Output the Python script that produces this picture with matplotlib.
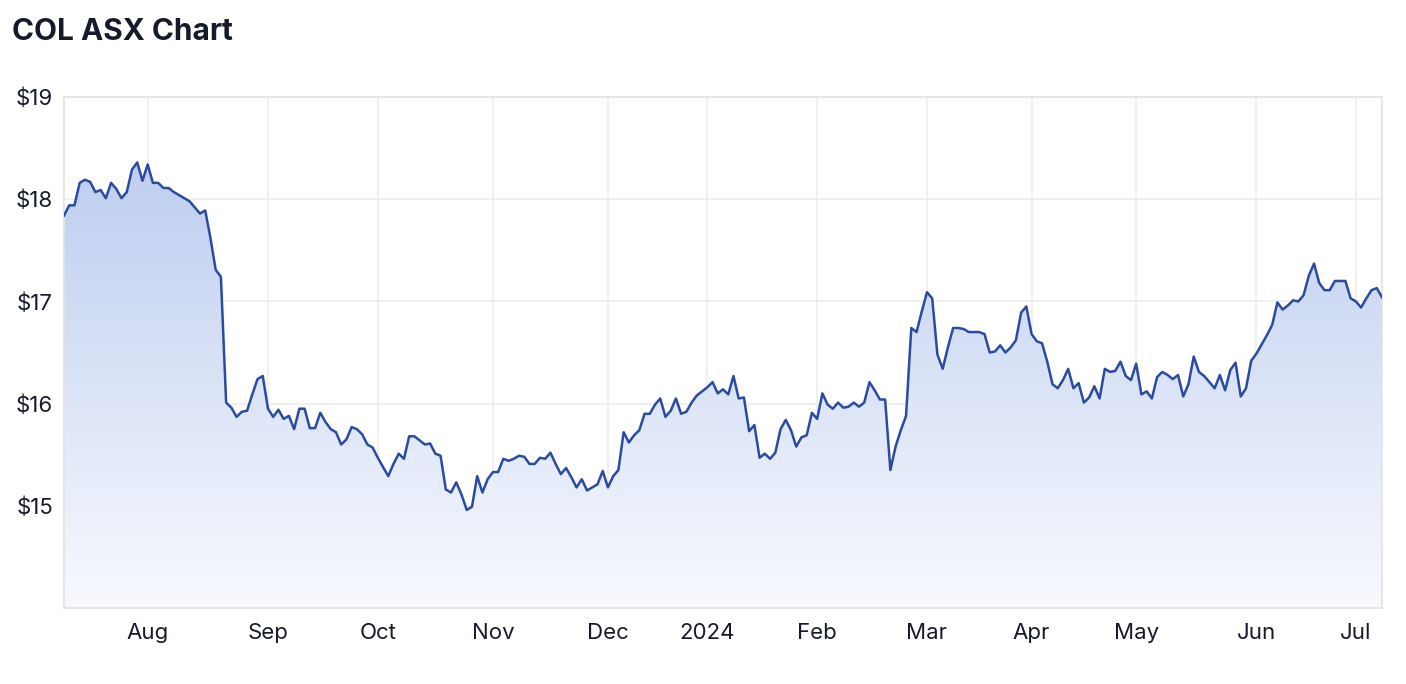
import numpy as np
import pandas as pd
import matplotlib
matplotlib.use("Agg")
import matplotlib.pyplot as plt

plt.rcParams['font.family'] = ['Inter', 'DejaVu Sans']

# ASX trading days, Jul 10 2023 -> Jul 8 2024 (exchange holidays removed)
start_date = "2023-07-10"
end_date = "2024-07-08"
asx_holidays = ["2023-12-25", "2023-12-26", "2024-01-01", "2024-01-26",
                "2024-03-29", "2024-04-01", "2024-04-25", "2024-06-10"]

# closing price of COL (one value per trading day)
prices_2023_jul_aug = [17.84, 17.94, 17.94, 18.16, 18.19, 18.17, 18.07, 18.09, 18.01, 18.16,
                       18.10, 18.01, 18.07, 18.29, 18.36, 18.18, 18.34, 18.16, 18.16, 18.11,
                       18.11, 18.07, 18.04, 18.01, 17.98, 17.92, 17.86, 17.89, 17.62, 17.31,
                       17.24, 16.01, 15.96, 15.87, 15.92, 15.93, 16.09, 16.24, 16.27]
prices_2023_sep_oct = [15.95, 15.87, 15.94, 15.85, 15.88, 15.75, 15.95, 15.95, 15.76, 15.76,
                       15.91, 15.82, 15.75, 15.72, 15.60, 15.65, 15.77, 15.75, 15.70, 15.60,
                       15.57, 15.47, 15.38, 15.29, 15.41, 15.51, 15.46, 15.68, 15.68, 15.64,
                       15.60, 15.61, 15.51, 15.49, 15.16, 15.13, 15.23, 15.11, 14.96, 14.99,
                       15.29, 15.13, 15.26]
prices_2023_nov_dec = [15.33, 15.33, 15.46, 15.44, 15.46, 15.49, 15.48, 15.41, 15.41, 15.47,
                       15.46, 15.52, 15.41, 15.31, 15.37, 15.28, 15.18, 15.26, 15.15, 15.18,
                       15.21, 15.34, 15.18, 15.29, 15.35, 15.72, 15.62, 15.69, 15.74, 15.90,
                       15.90, 15.99, 16.05, 15.87, 15.93, 16.05, 15.90, 15.92, 16.01, 16.08,
                       16.12]
prices_2024_jan_feb = [16.16, 16.21, 16.10, 16.14, 16.09, 16.27, 16.05, 16.06, 15.73, 15.79,
                       15.47, 15.51, 15.46, 15.52, 15.75, 15.84, 15.74, 15.58, 15.67, 15.69,
                       15.91, 15.85, 16.10, 15.99, 15.95, 16.01, 15.96, 15.97, 16.01, 15.97,
                       16.01, 16.21, 16.13, 16.04, 16.04, 15.35, 15.58, 15.74, 15.88, 16.74,
                       16.70, 16.90]
prices_2024_mar_apr = [17.09, 17.03, 16.48, 16.34, 16.55, 16.74, 16.74, 16.73, 16.70, 16.70,
                       16.70, 16.68, 16.50, 16.51, 16.57, 16.50, 16.55, 16.62, 16.89, 16.95,
                       16.68, 16.61, 16.59, 16.41, 16.19, 16.15, 16.23, 16.34, 16.15, 16.20,
                       16.01, 16.06, 16.17, 16.05, 16.34, 16.31, 16.32, 16.41, 16.27, 16.23]
prices_2024_may_jul = [16.39, 16.09, 16.12, 16.05, 16.26, 16.31, 16.28, 16.24, 16.28, 16.07,
                       16.19, 16.46, 16.31, 16.27, 16.21, 16.15, 16.28, 16.13, 16.33, 16.40,
                       16.07, 16.15, 16.42, 16.49, 16.58, 16.67, 16.77, 16.99, 16.92, 16.96,
                       17.01, 17.00, 17.06, 17.25, 17.37, 17.18, 17.11, 17.11, 17.20, 17.20,
                       17.20, 17.03, 17.00, 16.94, 17.03, 17.11, 17.13, 17.04]

y_ticks = [15, 16, 17, 18, 19]
y_tick_labels = ["$15", "$16", "$17", "$18", "$19"]

dates = pd.bdate_range(start_date, end_date)
dates = dates[~dates.isin(pd.to_datetime(asx_holidays))]
prices = np.array(prices_2023_jul_aug + prices_2023_sep_oct + prices_2023_nov_dec
                  + prices_2024_jan_feb + prices_2024_mar_apr + prices_2024_may_jul)

# ordinal x axis: every trading day gets the same width
x = np.arange(len(dates))

# month ticks at the first trading day of each month, January shows the year
month_starts = [i for i in range(1, len(dates)) if dates[i].month != dates[i - 1].month]
month_labels = [str(dates[i].year) if dates[i].month == 1 else dates[i].strftime("%b") for i in month_starts]

text_color = "#161b2c"
grid_color = "#eeeef1"
line_color = "#2a4b9f"

fig = plt.figure(figsize=(14.06, 6.84), dpi=100)
ax = fig.add_axes([64 / 1406, 76 / 684, 1318 / 1406, 511 / 684])
ax.set_xlim(0, len(dates) - 1)
ax.set_ylim(14.0, 19.0)

# gradient fill under the line (imshow clipped to the area polygon)
top_rgb = np.array([182, 200, 238]) / 255
bottom_rgb = np.array([247, 249, 254]) / 255
t = np.linspace(0, 1, 256)[:, None]
grad = top_rgb * (1 - t) + bottom_rgb * t
grad = np.repeat(grad[:, None, :], 2, axis=1)
img = ax.imshow(grad, extent=[0, len(dates) - 1, 14.0, 19.0], aspect="auto", origin="upper", zorder=1)
area = ax.fill_between(x, prices, 14.0, facecolor="none", edgecolor="none")
clip = area.get_paths()[0]
img.set_clip_path(clip, transform=ax.transData)

ax.plot(x, prices, color=line_color, linewidth=1.8, zorder=3, solid_joinstyle="round")

ax.set_yticks(y_ticks)
ax.set_yticklabels(y_tick_labels)
ax.set_xticks(month_starts)
ax.set_xticklabels(month_labels)
ax.grid(True, color=grid_color, linewidth=1.2, zorder=0)
ax.set_axisbelow(True)
ax.tick_params(axis="both", length=0, labelsize=16, labelcolor=text_color)
ax.tick_params(axis="y", pad=8)
ax.tick_params(axis="x", pad=11)
for s in ax.spines.values():
    s.set_color("#e3e3e6")
    s.set_linewidth(1.2)

fig.text(12 / 1406, 1 - 40 / 684, "COL ASX Chart", fontsize=21.5, fontweight="bold",
         color=text_color, ha="left", va="baseline")

fig.savefig("out.png", dpi=100, facecolor="white")
